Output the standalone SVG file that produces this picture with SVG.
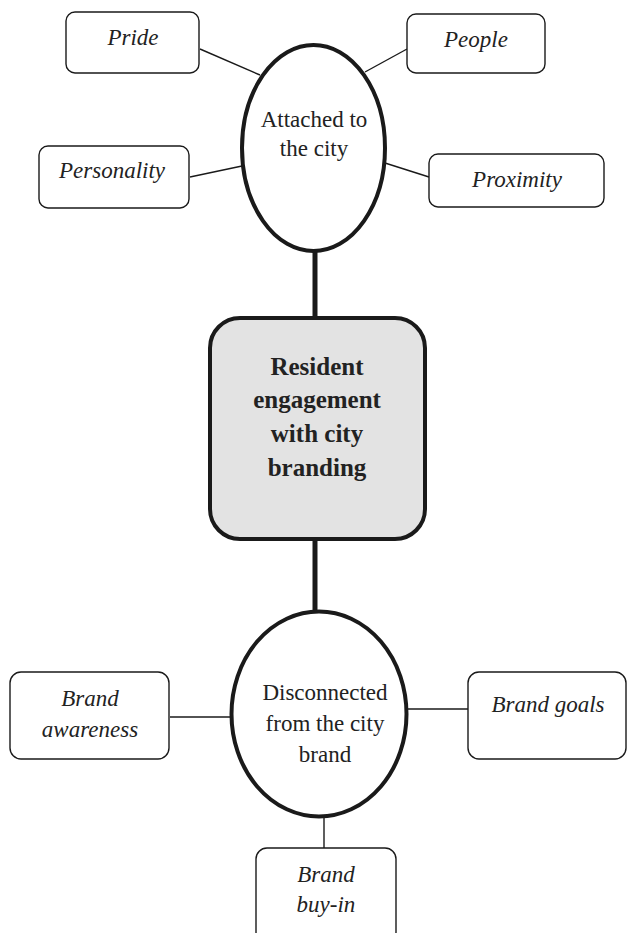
<svg xmlns="http://www.w3.org/2000/svg" width="628" height="933" viewBox="0 0 628 933">
<style>
.box{fill:#fff;stroke:#1a1a1a;stroke-width:1.4}
.ell{fill:#fff;stroke:#1a1a1a;stroke-width:4}
.core{fill:#e3e3e3;stroke:#1a1a1a;stroke-width:4}
.thin{stroke:#1a1a1a;stroke-width:1.4;fill:none}
.thick{stroke:#1a1a1a;stroke-width:5;fill:none}
text{font-family:"Liberation Serif","Times New Roman",serif;fill:#222;text-anchor:middle}
.it{font-size:23px;font-style:italic}
.rg{font-size:23px}
.bd{font-size:25px;font-weight:bold}
</style>
<rect width="628" height="933" fill="#fff"/>
<g id="connectors">
<line class="thick" x1="315" y1="250" x2="315" y2="318"/>
<line class="thick" x1="315" y1="539" x2="315" y2="612"/>
<line class="thin" x1="200" y1="49" x2="260" y2="75"/>
<line class="thin" x1="407" y1="49" x2="365" y2="72"/>
<line class="thin" x1="190" y1="177" x2="242" y2="166"/>
<line class="thin" x1="385" y1="163" x2="429" y2="177"/>
<line class="thin" x1="170" y1="717" x2="231" y2="717"/>
<line class="thin" x1="407" y1="709" x2="468" y2="709"/>
<line class="thin" x1="324" y1="816" x2="324" y2="848"/>
</g>
<g id="pride"><rect class="box" x="66" y="12" width="133" height="61" rx="9"/><text class="it" x="133" y="45">Pride</text></g>
<g id="people"><rect class="box" x="407" y="14" width="138" height="59" rx="9"/><text class="it" x="476" y="47">People</text></g>
<g id="personality"><rect class="box" x="39" y="146" width="150" height="62" rx="9"/><text class="it" x="112" y="178">Personality</text></g>
<g id="proximity"><rect class="box" x="429" y="154" width="175" height="53" rx="9"/><text class="it" x="517" y="187">Proximity</text></g>
<g id="attached"><ellipse class="ell" cx="313.5" cy="148" rx="71.5" ry="103"/><text class="rg" x="314" y="127">Attached to</text><text class="rg" x="314" y="156">the city</text></g>
<g id="core"><rect class="core" x="210" y="318" width="215" height="221" rx="30"/>
<text class="bd" x="317" y="375">Resident</text><text class="bd" x="317" y="408">engagement</text><text class="bd" x="317" y="442">with city</text><text class="bd" x="317" y="476">branding</text></g>
<g id="disconnected"><ellipse class="ell" cx="319" cy="714" rx="87.5" ry="102.5"/><text class="rg" x="325" y="700">Disconnected</text><text class="rg" x="325" y="731">from the city</text><text class="rg" x="325" y="762">brand</text></g>
<g id="awareness"><rect class="box" x="10" y="672" width="159" height="87" rx="11"/><text class="it" x="90" y="706">Brand</text><text class="it" x="90" y="737">awareness</text></g>
<g id="goals"><rect class="box" x="468" y="672" width="158" height="87" rx="11"/><text class="it" x="548" y="712">Brand goals</text></g>
<g id="buyin"><rect class="box" x="256" y="848" width="140" height="95" rx="11"/><text class="it" x="326" y="882">Brand</text><text class="it" x="326" y="912">buy-in</text></g>
</svg>
